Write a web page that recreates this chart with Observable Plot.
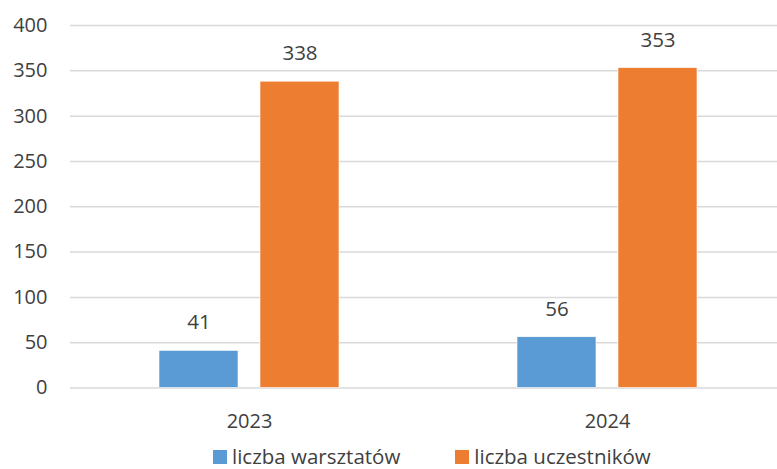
<!DOCTYPE html>
<html>
<head>
<meta charset="utf-8">
<script src="https://cdn.jsdelivr.net/npm/d3@7"></script>
<script src="https://cdn.jsdelivr.net/npm/@observablehq/plot@0.6"></script>
<style>
  html, body { margin: 0; padding: 0; background: white; }
  #wrap { position: relative; width: 777px; height: 469px; overflow: hidden; font-family: "Open Sans", sans-serif; color: #404040; }
  #legend { position: absolute; top: 446px; left: 213px; font-size: 20.5px; line-height: 20px; white-space: nowrap; }
  .sw { display: inline-block; width: 14px; height: 14px; margin-right: 5px; }
  .item { display: inline-block; }
</style>
</head>
<body>
<div id="wrap">
  <div id="chart"></div>
  <div id="legend"></div>
</div>
<script>
const years = ["2023", "2024"];
const series = ["liczba warsztatów", "liczba uczestników"];
const warsztaty = [41, 56];
const uczestnicy = [338, 353];
const yTicks = [0, 50, 100, 150, 200, 250, 300, 350, 400];
const colors = ["#5B9BD5", "#ED7D31"];

const data = years.flatMap((y, i) => [
  { year: y, series: series[0], value: warsztaty[i] },
  { year: y, series: series[1], value: uczestnicy[i] }
]);

const H = 440;
const chart = Plot.plot({
  width: 777,
  height: H,
  marginLeft: 70,
  marginRight: -9,
  marginTop: 25,
  marginBottom: H - 387.5,
  style: { fontFamily: "Open Sans, sans-serif", fontSize: "20px", color: "#404040", background: "white" },
  fx: { domain: years, padding: 0, axis: "bottom", tickSize: 0, tickPadding: 26, label: null },
  x: { domain: series, paddingInner: 0.2157, paddingOuter: 0.863, axis: null },
  y: { domain: [0, 400], ticks: yTicks, tickSize: 0, tickPadding: 23, label: null },
  color: { domain: series, range: colors },
  marks: [
    Plot.gridY(yTicks, { stroke: "#d9d9d9", strokeOpacity: 1, strokeWidth: 1.5 }),
    Plot.barY(data, { fx: "year", x: "series", y: "value", fill: "series", stroke: "white", strokeWidth: 0.6 }),
    Plot.text(data, { fx: "year", x: "series", y: "value", text: d => String(d.value), dy: -28, fill: "#404040", fontSize: 20.5 })
  ]
});
document.getElementById("chart").appendChild(chart);

const legend = document.getElementById("legend");
series.forEach((s, i) => {
  const item = document.createElement("span");
  item.className = "item";
  item.style.marginRight = i === 0 ? "55px" : "0";
  const sw = document.createElement("span");
  sw.className = "sw";
  sw.style.background = colors[i];
  item.appendChild(sw);
  item.appendChild(document.createTextNode(s));
  legend.appendChild(item);
});
</script>
</body>
</html>
